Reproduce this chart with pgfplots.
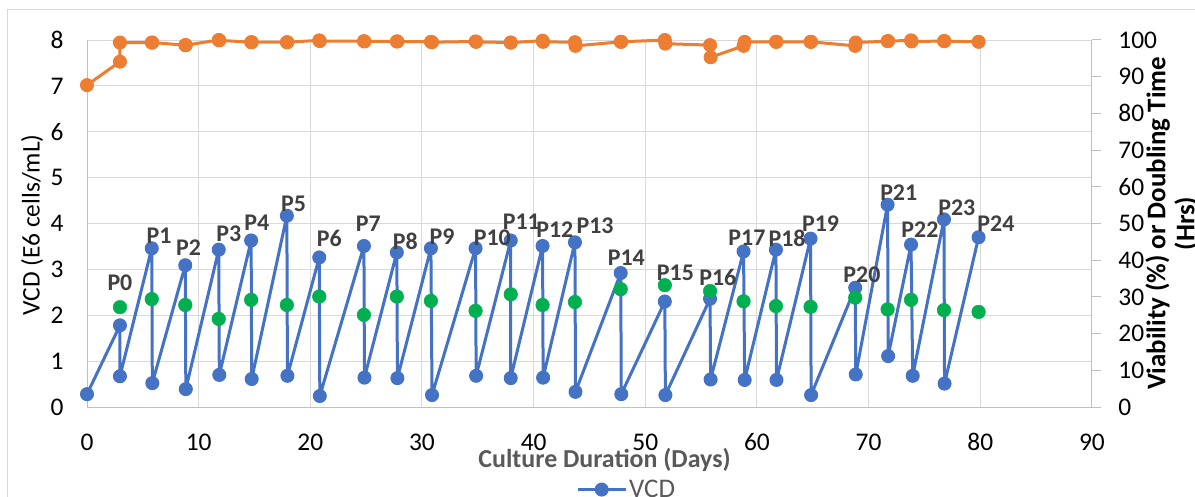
\documentclass[border=0pt]{standalone}
\usepackage{pgfplots}
\pgfplotsset{compat=1.18}
\usepackage{pgfplotstable}
\usepackage{fontspec}
\setmainfont{Carlito}
\definecolor{vcd}{HTML}{4472C4}
\definecolor{via}{HTML}{ED7D31}
\definecolor{dbl}{HTML}{00B050}
\definecolor{gridc}{HTML}{D9D9D9}
\definecolor{axc}{HTML}{BFBFBF}
\definecolor{lab}{HTML}{595959}
\definecolor{plab}{HTML}{404040}

\pgfplotstableread{
x y
0 0.28
2.95 1.78
2.95 0.67
5.8 3.46
5.85 0.52
8.8 3.09
8.85 0.39
11.8 3.43
11.85 0.70
14.7 3.63
14.75 0.61
17.9 4.17
17.95 0.68
20.8 3.26
20.85 0.24
24.8 3.51
24.85 0.64
27.75 3.37
27.8 0.63
30.8 3.46
30.9 0.26
34.8 3.46
34.85 0.68
37.95 3.63
37.95 0.63
40.8 3.51
40.85 0.64
43.7 3.59
43.75 0.33
47.8 2.92
47.85 0.28
51.75 2.30
51.8 0.26
55.8 2.36
55.85 0.60
58.8 3.39
58.9 0.59
61.7 3.43
61.75 0.59
64.8 3.67
64.85 0.26
68.8 2.60
68.85 0.71
71.7 4.41
71.75 1.11
73.8 3.54
73.95 0.68
76.75 4.09
76.8 0.51
79.85 3.70
}\vcdtable

\pgfplotstableread{
x y
2.95 27.2
5.8 29.4
8.8 27.8
11.8 24.0
14.7 29.2
17.9 27.8
20.8 30.1
24.8 25.1
27.75 30.1
30.8 28.9
34.8 26.2
37.95 30.7
40.8 27.8
43.7 28.6
47.8 32.1
51.75 33.2
55.8 31.6
58.8 28.8
61.7 27.5
64.8 27.3
68.8 29.8
71.7 26.6
73.8 29.2
76.75 26.4
79.85 25.9
}\dbltable

\pgfplotstableread{
x y
0 87.7
2.95 94.1
2.95 99.3
5.8 99.3
5.85 99.3
8.8 98.6
8.85 98.6
11.8 100
11.85 99.9
14.7 99.4
14.75 99.4
17.9 99.4
17.95 99.4
20.8 99.9
20.85 99.7
24.8 99.7
24.85 99.6
27.75 99.6
27.8 99.6
30.8 99.5
30.9 99.4
34.8 99.6
34.85 99.5
37.95 99.3
37.95 99.3
40.8 99.8
40.85 99.5
43.7 99.4
43.75 98.4
47.8 99.5
47.85 99.5
51.75 100
51.8 99.0
55.8 98.6
55.85 95.3
58.8 98.4
58.9 99.5
61.7 99.5
61.75 99.5
64.8 99.5
64.85 99.5
68.8 98.4
68.85 99.3
71.7 99.7
71.75 99.7
73.8 99.9
73.85 99.6
76.75 99.7
76.8 99.7
79.85 99.5
}\viatable

\begin{document}
\begin{tikzpicture}
\useasboundingbox (-87bp,-90bp) rectangle (1108bp,407bp);
\clip (-87bp,-90bp) rectangle (1108bp,407bp);
\fill[white] (-87bp,-90bp) rectangle (1108bp,407bp);
\draw[gridc, line width=0.8bp] (-80bp,-100bp) |- (1200bp,398bp);

\begin{axis}[
  at={(0,0)}, anchor=south west,
  scale only axis, width=1005bp, height=367bp,
  xmin=0, xmax=90, ymin=0, ymax=8,
  xtick={0,10,...,90}, ytick={0,1,...,8},
  axis x line*=bottom, axis y line*=left,
  grid=major, major grid style={gridc, line width=1bp},
  axis line style={axc, line width=1bp},
  major tick length=0pt,
  /pgf/number format/assume math mode=true,
  ticklabel style={font=\fontsize{25.5}{25.5}\selectfont, text=black},
  yticklabel style={anchor=east, xshift=-20bp},
  xticklabel style={anchor=center, yshift=-35bp},
  ylabel={VCD (E6 cells/mL)},
  ylabel style={at={(axis description cs:-0.0547,0.496)}, anchor=center, font=\fontsize{25.5}{25.5}\selectfont, text=black},
  xlabel={Culture Duration (Days)},
  xlabel style={at={(axis description cs:0.515,-0.144)}, anchor=center, font=\bfseries\fontsize{26}{26}\selectfont, text=lab},
  legend style={at={(axis description cs:0.537,-0.225)}, anchor=center, draw=none, fill=none, font=\fontsize{27}{27}\selectfont, text=lab, inner sep=0pt},
  legend image code/.code={\draw[mark repeat=2,mark phase=2] plot coordinates {(0bp,0bp)(24bp,0bp)(48bp,0bp)};},
  clip=false,
]
\addplot[vcd, line width=3bp, line join=round, mark=*, mark size=6.5bp, mark options={fill=vcd, draw=vcd, line width=1bp}] table[x=x,y=y] {\vcdtable};
\addlegendentry{VCD}
\end{axis}

\begin{axis}[
  at={(0,0)}, anchor=south west,
  scale only axis, width=1005bp, height=367bp,
  xmin=0, xmax=90, ymin=0, ymax=100,
  ytick={0,10,...,100},
  axis x line=none, axis y line*=right,
  axis line style={axc, line width=1bp},
  tick style={axc, line width=1bp},
  tick align=outside, major tick length=9bp,
  /pgf/number format/assume math mode=true,
  ticklabel style={font=\fontsize{25.5}{25.5}\selectfont, text=black},
  yticklabel style={anchor=west, xshift=14bp},
  ylabel={Viability (\%) or Doubling Time\\(Hrs)},
  ylabel style={at={(axis description cs:1.0796,0.5)}, anchor=center, align=center, font=\bfseries\fontsize{27}{29}\selectfont, text=black},
  clip=false,
]
\addplot[via, line width=3bp, line join=round, mark=*, mark size=6.5bp, mark options={fill=via, draw=via, line width=1bp}] table[x=x,y=y] {\viatable};
\addplot[only marks, mark=*, mark size=6.8bp, mark options={fill=dbl, draw=dbl, line width=0.5bp}] table[x=x,y=y] {\dbltable};
\begin{scope}[every node/.style={font=\bfseries\fontsize{24}{24}\selectfont, text=plab, inner sep=0pt}]
\node at (axis cs:2.95,33.75) {P0};
\node at (axis cs:6.45,46.75) {P1};
\node at (axis cs:9.1,43.5) {P2};
\node at (axis cs:12.7,47.25) {P3};
\node at (axis cs:15.2,50.25) {P4};
\node at (axis cs:18.5,55.4) {P5};
\node at (axis cs:21.7,45.9) {P6};
\node at (axis cs:25.2,50) {P7};
\node at (axis cs:28.5,45.1) {P8};
\node at (axis cs:31.8,46.5) {P9};
\node at (axis cs:36.3,46.25) {P10};
\node at (axis cs:38.9,50.5) {P11};
\node at (axis cs:41.9,48.4) {P12};
\node at (axis cs:45.5,49.5) {P13};
\node at (axis cs:48.3,40.75) {P14};
\node at (axis cs:52.7,36.6) {P15};
\node at (axis cs:56.5,35.4) {P16};
\node at (axis cs:59.1,46.25) {P17};
\node at (axis cs:62.7,45.9) {P18};
\node at (axis cs:65.7,50) {P19};
\node at (axis cs:69.4,36.1) {P20};
\node at (axis cs:72.7,58.4) {P21};
\node at (axis cs:74.6,48.4) {P22};
\node at (axis cs:77.9,54.4) {P23};
\node at (axis cs:81.4,50) {P24};
\end{scope}
\end{axis}
\end{tikzpicture}
\end{document}
